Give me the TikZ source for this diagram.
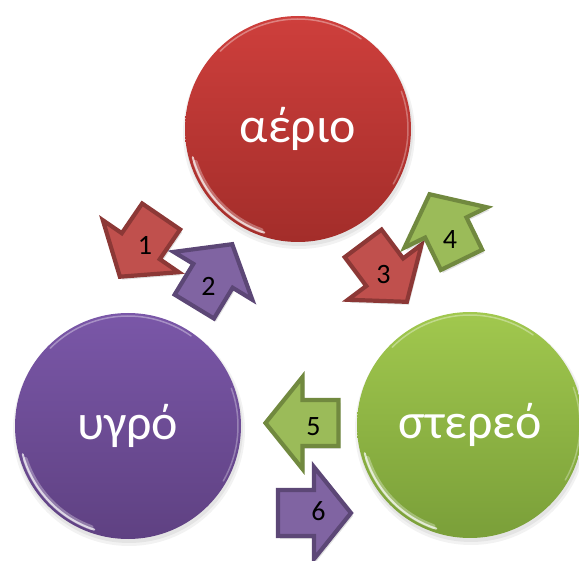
\documentclass[tikz,border=0pt]{standalone}
\usepackage{fontspec}
\setmainfont{Carlito}
\usetikzlibrary{calc}
\definecolor{redfill}{HTML}{C0504D}
\definecolor{reddraw}{HTML}{8C3836}
\definecolor{grnfill}{HTML}{9BBB59}
\definecolor{grndraw}{HTML}{71893F}
\definecolor{purfill}{HTML}{8064A2}
\definecolor{purdraw}{HTML}{5C4776}
\definecolor{redtop}{HTML}{CE3F3C}
\definecolor{redbot}{HTML}{A32D2A}
\definecolor{purtop}{HTML}{7A57A8}
\definecolor{purbot}{HTML}{5F4182}
\definecolor{grntop}{HTML}{A1C84E}
\definecolor{grnbot}{HTML}{7A9F39}
\tikzset{
  phase/.style 2 args={circle, minimum size=226pt, inner sep=0pt,
    top color=#1, bottom color=#2, text=white,
    font=\fontsize{50pt}{54pt}\selectfont},
  numlbl/.style={text=black, inner sep=0pt, font=\fontsize{28pt}{30pt}\selectfont},
  pics/barrow/.style n args={3}{code={
    \fill[black, opacity=0.12, shift={(2pt,-3pt)}, rotate=#1]
      (-36pt,-23pt) -- (0pt,-23pt) -- (0pt,-46pt) -- (37pt,0pt) -- (0pt,46pt) -- (0pt,23pt) -- (-36pt,23pt) -- cycle;
    \draw[line width=4.2pt, line join=miter, fill=#2, draw=#3, rotate=#1]
      (-36pt,-23pt) -- (0pt,-23pt) -- (0pt,-46pt) -- (37pt,0pt) -- (0pt,46pt) -- (0pt,23pt) -- (-36pt,23pt) -- cycle;
  }},
  rim/.style={white, line cap=round}
}
\newcommand{\bevel}[1]{%
  \draw[rim, opacity=0.3, line width=5pt] ($(#1.center)+(198:108pt)$) arc[start angle=198, end angle=250, radius=108pt];
  \draw[rim, opacity=0.7, line width=2pt] ($(#1.center)+(195:109pt)$) arc[start angle=195, end angle=252, radius=109pt];
  \draw[rim, opacity=0.35, line width=1.5pt] ($(#1.center)+(55:110pt)$) arc[start angle=55, end angle=135, radius=110pt];
  \draw[rim, opacity=0.3, line width=1.5pt] ($(#1.center)+(-30:110pt)$) arc[start angle=-30, end angle=20, radius=110pt];
}
\begin{document}
\begin{tikzpicture}[x=1pt, y=-1pt]
\useasboundingbox (0,0) rectangle (579,561);
% soft shadows
\foreach \c in {(298,129),(128,426),(470,425)}{
  \fill[black, opacity=0.05] \c ++(1pt,-4pt) circle (116pt);
  \fill[black, opacity=0.06] \c ++(1pt,-3pt) circle (114pt);
}
\node[phase={redtop}{redbot}] (gas) at (298,129) {αέριο};
\node[phase={purtop}{purbot}] (liq) at (128,426) {υγρό};
\node[phase={grntop}{grnbot}] (sol) at (470,425) {στερεό};
\bevel{gas}
\bevel{liq}
\bevel{sol}
% arrows
\pic (a1) at (140.8,246.2) {barrow={235.6}{redfill}{reddraw}};
\pic (a2) at (213,275.8) {barrow={58.7}{purfill}{purdraw}};
\pic (a3) at (384.7,272.2) {barrow={306.8}{redfill}{reddraw}};
\pic (a4) at (445.8,227.5) {barrow={116}{grnfill}{grndraw}};
\pic (a5) at (302.5,423) {barrow={180}{grnfill}{grndraw}};
\pic (a6) at (314,513) {barrow={0}{purfill}{purdraw}};
\node[numlbl] (n1) at (145,245) {1};
\node[numlbl] (n2) at (208.5,286.5) {2};
\node[numlbl] (n3) at (383.5,275) {3};
\node[numlbl] (n4) at (450,240) {4};
\node[numlbl] (n5) at (313.5,426.5) {5};
\node[numlbl] (n6) at (318.5,511.5) {6};
\end{tikzpicture}
\end{document}
